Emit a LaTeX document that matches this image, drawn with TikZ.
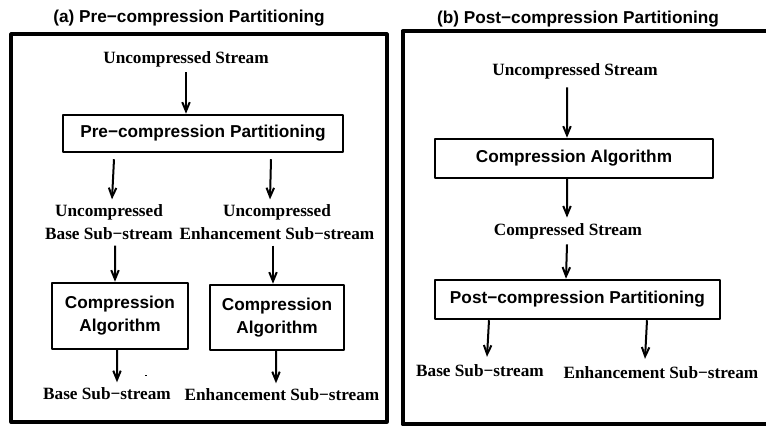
\documentclass[tikz,border=0pt]{standalone}
\usepackage{fontspec}
\setmainfont{Liberation Serif}
\setsansfont{Liberation Sans}
\usetikzlibrary{arrows.meta,positioning}

\newcommand{\diagsize}{\fontsize{9.8}{13}\selectfont}

\tikzset{
  procbox/.style={draw, line width=0.05cm, font=\sffamily\bfseries\diagsize, align=center, inner sep=0pt},
  streamlabel/.style={font=\bfseries\diagsize, align=center, inner sep=3pt},
  paneltitle/.style={font=\sffamily\bfseries\diagsize},
  flow/.style={->, line width=0.04cm},
}

\begin{document}
\begin{tikzpicture}[>={Straight Barb[length=0.18cm,width=0.15cm]}, line join=round]

\useasboundingbox (0,0) rectangle (15.32,8.52);
\clip (0,0) rectangle (15.32,8.52);

% (a) pre-compression partitioning
\node[paneltitle] (titleA) at (3.78,8.16) {(a) Pre−compression Partitioning};
\draw[line width=0.08cm] (0.23,0.08) rectangle (7.73,7.83);

\node[streamlabel] (inA) at (3.72,7.34) {Uncompressed Stream};
\node[procbox, minimum width=5.6cm, minimum height=0.74cm] (partA) at (4.06,5.85) {Pre−compression Partitioning};
\node[streamlabel] (ubaseA) at (2.18,4.07) {Uncompressed\\Base Sub−stream};
\node[streamlabel] (uenhA) at (5.54,4.07) {Uncompressed\\Enhancement Sub−stream};
\node[procbox, minimum width=2.72cm, minimum height=1.32cm] (compA1) at (2.40,2.20) {Compression\\Algorithm};
\node[procbox, minimum width=2.68cm, minimum height=1.30cm] (compA2) at (5.54,2.17) {Compression\\Algorithm};
\node[streamlabel] (baseA) at (2.14,0.64) {Base Sub−stream};
\node[streamlabel] (enhA) at (5.64,0.62) {Enhancement Sub−stream};
\fill (2.89,0.99) rectangle (2.93,1.02);

\draw[flow] (inA.south) -- (inA.south |- partA.north);
\draw[flow] ([xshift=-1.78cm,yshift=-0.12cm]partA.south) -- ([xshift=0.06cm]ubaseA.north);
\draw[flow] ([xshift=1.36cm,yshift=-0.12cm]partA.south) -- ([xshift=-0.14cm]uenhA.north);
\draw[flow] ([xshift=0.12cm]ubaseA.south) -- ([xshift=-0.10cm]compA1.north);
\draw[flow] ([xshift=-0.08cm]uenhA.south) -- ([xshift=-0.08cm]compA2.north);
\draw[flow] ([xshift=-0.06cm]compA1.south) -- ([xshift=0.20cm]baseA.north);
\draw[flow] ([xshift=-0.02cm]compA2.south) -- ([xshift=-0.12cm]enhA.north);

% (b) post-compression partitioning
\node[paneltitle] (titleB) at (11.56,8.14) {(b) Post−compression Partitioning};
\draw[line width=0.08cm] (8.05,0.03) rectangle (15.40,7.89);

\node[streamlabel] (inB) at (11.50,7.10) {Uncompressed Stream};
\node[procbox, minimum width=5.56cm, minimum height=0.78cm] (compB) at (11.48,5.35) {Compression Algorithm};
\node[streamlabel] (cstrB) at (11.36,3.90) {Compressed Stream};
\node[procbox, minimum width=5.70cm, minimum height=0.78cm] (partB) at (11.55,2.53) {Post−compression Partitioning};
\node[streamlabel] (baseB) at (9.60,1.10) {Base Sub−stream};
\node[streamlabel] (enhB) at (13.22,1.06) {Enhancement Sub−stream};

\draw[flow] ([xshift=-0.16cm,yshift=-0.06cm]inB.south) -- ([xshift=-0.14cm]compB.north);
\draw[flow] ([xshift=-0.14cm]compB.south) -- ([xshift=-0.02cm]cstrB.north);
\draw[flow] ([xshift=-0.02cm]cstrB.south) -- ([xshift=-0.23cm]partB.north);
\draw[flow] ([xshift=-1.77cm]partB.south) -- ([xshift=0.14cm,yshift=0.05cm]baseB.north);
\draw[flow] ([xshift=1.39cm]partB.south) -- ([xshift=-0.32cm,yshift=0.05cm]enhB.north);

\end{tikzpicture}
\end{document}
